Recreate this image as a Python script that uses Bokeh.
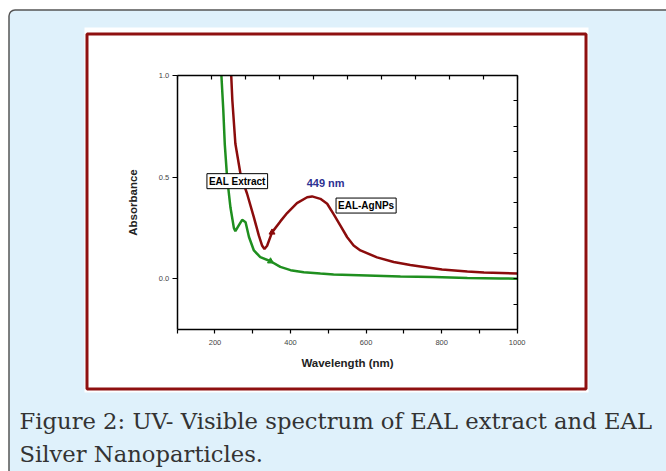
from bokeh.plotting import figure
from bokeh.models import (Range1d, LinearAxis, FixedTicker, PrintfTickFormatter,
                          Label, BoxAnnotation)
from bokeh.embed import file_html
from bokeh.resources import INLINE

# ---------------- data ----------------
extract_wl = [217, 222, 226, 232, 241, 250, 254, 263, 272, 281, 290, 303, 320,
              347, 373, 400, 435, 479, 514, 603, 691, 779, 868, 956, 1000]
extract_abs = [1.0, 0.83, 0.66, 0.50, 0.35, 0.25, 0.234, 0.262, 0.29, 0.278, 0.205,
               0.139, 0.106, 0.086, 0.058, 0.042, 0.032, 0.025, 0.021, 0.016, 0.011,
               0.008, 0.004, 0.001, 0.0]

agnp_wl = [243, 246, 254, 268, 285, 303, 316, 325, 331, 338, 351, 373, 391, 417,
           444, 457, 479, 497, 514, 532, 550, 567, 585, 629, 673, 717, 744, 801, 868,
           912, 1000]
agnp_abs = [1.0, 0.877, 0.664, 0.51, 0.418, 0.302, 0.213, 0.162, 0.146, 0.162,
            0.228, 0.282, 0.323, 0.372, 0.401, 0.405, 0.393, 0.369, 0.318, 0.261, 0.204,
            0.163, 0.139, 0.105, 0.082, 0.067, 0.060, 0.045, 0.036, 0.031, 0.025]

extract_marker_wl = [347]
extract_marker_abs = [0.086]
agnp_marker_wl = [351]
agnp_marker_abs = [0.228]

x_major_ticks = [200, 400, 600, 800, 1000]
x_minor_ticks = [100, 300, 500, 700, 900]
y_major_ticks = [0.0, 0.5, 1.0]
top_ticks = [100 + 90 * k for k in range(11)]
right_ticks = [-0.25 + 0.125 * k for k in range(11)]

label_extract = "EAL Extract"
label_agnp = "EAL-AgNPs"
label_peak = "449 nm"
caption_1 = "Figure 2: UV- Visible spectrum of EAL extract and EAL"
caption_2 = "Silver Nanoparticles."

GREEN = "#1f8f1f"
RED = "#8b0c0c"
SANS = "Liberation Sans"

# ---------------- layout (canvas pixels) ----------------
W, H = 666, 471
X0, X1, Y0, Y1 = 100, 1000, -0.25, 1.0          # chart data window
CL, CR, CT, CB = 176.7, 516.7, 75.0, 329.0      # chart window in pixels
KX = (X1 - X0) / (CR - CL)
KY = (Y1 - Y0) / (CB - CT)

def dx(px):
    return X0 + (px - CL) * KX

def dy(py):
    return Y0 + (CB - py) * KY

p = figure(width=W, height=H, min_border=0,
           x_range=Range1d(dx(0), dx(W)), y_range=Range1d(dy(H), dy(0)),
           output_backend="svg", toolbar_location=None,
           background_fill_color="white", border_fill_color="white",
           outline_line_color=None)
p.title.visible = False
p.grid.visible = False

# decorations: outer light-blue box, white panel with dark red border
p.add_layout(BoxAnnotation(left=dx(8.5), right=dx(W + 30), top=dy(9.5), bottom=dy(H + 30),
                           fill_color="#dff1fb", fill_alpha=1.0,
                           line_color="#555555", line_alpha=1.0, line_width=1.5,
                           border_radius=6, level="underlay"))
p.add_layout(BoxAnnotation(left=dx(84), right=dx(588), top=dy(27), bottom=dy(392),
                           fill_color="white", fill_alpha=1.0,
                           line_color=None, level="underlay"))
p.add_layout(BoxAnnotation(left=dx(86.5), right=dx(585.5), top=dy(33.5), bottom=dy(388.5),
                           fill_color="white", fill_alpha=1.0,
                           line_color="#8e1010", line_alpha=1.0, line_width=3,
                           level="underlay"))

# curves
p.line(extract_wl, extract_abs, line_color=GREEN, line_width=2.5)
p.line(agnp_wl, agnp_abs, line_color=RED, line_width=2.5)
p.scatter(extract_marker_wl, extract_marker_abs, marker="triangle", size=6,
          fill_color=GREEN, line_color=GREEN)
p.scatter(agnp_marker_wl, agnp_marker_abs, marker="triangle", size=6,
          fill_color=RED, line_color=RED)

# axes (placed at the chart window edges)
xa = p.xaxis[0]
xa.fixed_location = Y0
xa.bounds = (X0, X1)
xa.ticker = FixedTicker(ticks=x_major_ticks, minor_ticks=x_minor_ticks)
xa.axis_label = "Wavelength (nm)"
ya = p.yaxis[0]
ya.fixed_location = X0
ya.bounds = (Y0, Y1)
ya.ticker = FixedTicker(ticks=y_major_ticks, minor_ticks=[])
ya.formatter = PrintfTickFormatter(format="%.1f")
ya.axis_label = "Absorbance"

for ax in (xa, ya):
    ax.axis_line_width = 1.5
    ax.axis_line_color = "black"
    ax.major_tick_line_width = 1.2
    ax.minor_tick_line_width = 1.2
    ax.major_tick_in = 0
    ax.minor_tick_in = 0
    ax.major_label_text_font = SANS
    ax.major_label_text_font_size = "7.5px"
    ax.major_label_text_color = "#444444"
    ax.axis_label_text_font = SANS
    ax.axis_label_text_font_style = "bold"
    ax.axis_label_text_font_size = "11.5px"
    ax.axis_label_text_color = "#222222"
xa.major_tick_out = 4
xa.minor_tick_out = 4
xa.major_label_standoff = 6
xa.axis_label_standoff = 9
ya.major_tick_out = 5
ya.major_label_standoff = 3
ya.axis_label_standoff = 17

top = LinearAxis(ticker=FixedTicker(ticks=top_ticks, minor_ticks=[]),
                 fixed_location=Y1, bounds=(X0, X1),
                 major_label_text_color=None, major_tick_in=4, major_tick_out=0,
                 axis_line_width=1.5, major_tick_line_width=1.2, minor_tick_line_width=0)
right = LinearAxis(ticker=FixedTicker(ticks=right_ticks, minor_ticks=[]),
                   fixed_location=X1, bounds=(Y0, Y1),
                   major_label_text_color=None, major_tick_in=4, major_tick_out=0,
                   axis_line_width=1.5, major_tick_line_width=1.2, minor_tick_line_width=0)
p.add_layout(top, "above")
p.add_layout(right, "right")

# annotations inside chart
p.add_layout(Label(x=259, y=0.48, text=label_extract, text_align="center",
                   text_baseline="middle", text_font=SANS, text_font_style="bold",
                   text_font_size="10px", text_color="black",
                   background_fill_color="white", border_line_color="black",
                   border_line_width=1, padding=2))
p.add_layout(Label(x=600, y=0.36, text=label_agnp, text_align="center",
                   text_baseline="middle", text_font=SANS, text_font_style="bold",
                   text_font_size="10px", text_color="black",
                   background_fill_color="white", border_line_color="black",
                   border_line_width=1, padding=2))
p.add_layout(Label(x=493, y=0.473, text=label_peak, text_align="center",
                   text_baseline="middle", text_font=SANS, text_font_style="bold",
                   text_font_size="11px", text_color="#2e3192"))

# caption
p.add_layout(Label(x=dx(19), y=dy(420), text=caption_1,
                   text_font="DejaVu Serif", text_font_size="22.7px",
                   text_color="#333333", text_align="left", text_baseline="middle"))
p.add_layout(Label(x=dx(19), y=dy(453), text=caption_2,
                   text_font="DejaVu Serif", text_font_size="22.7px",
                   text_color="#333333", text_align="left", text_baseline="middle"))

open("out.html", "w").write(file_html(p, INLINE))
